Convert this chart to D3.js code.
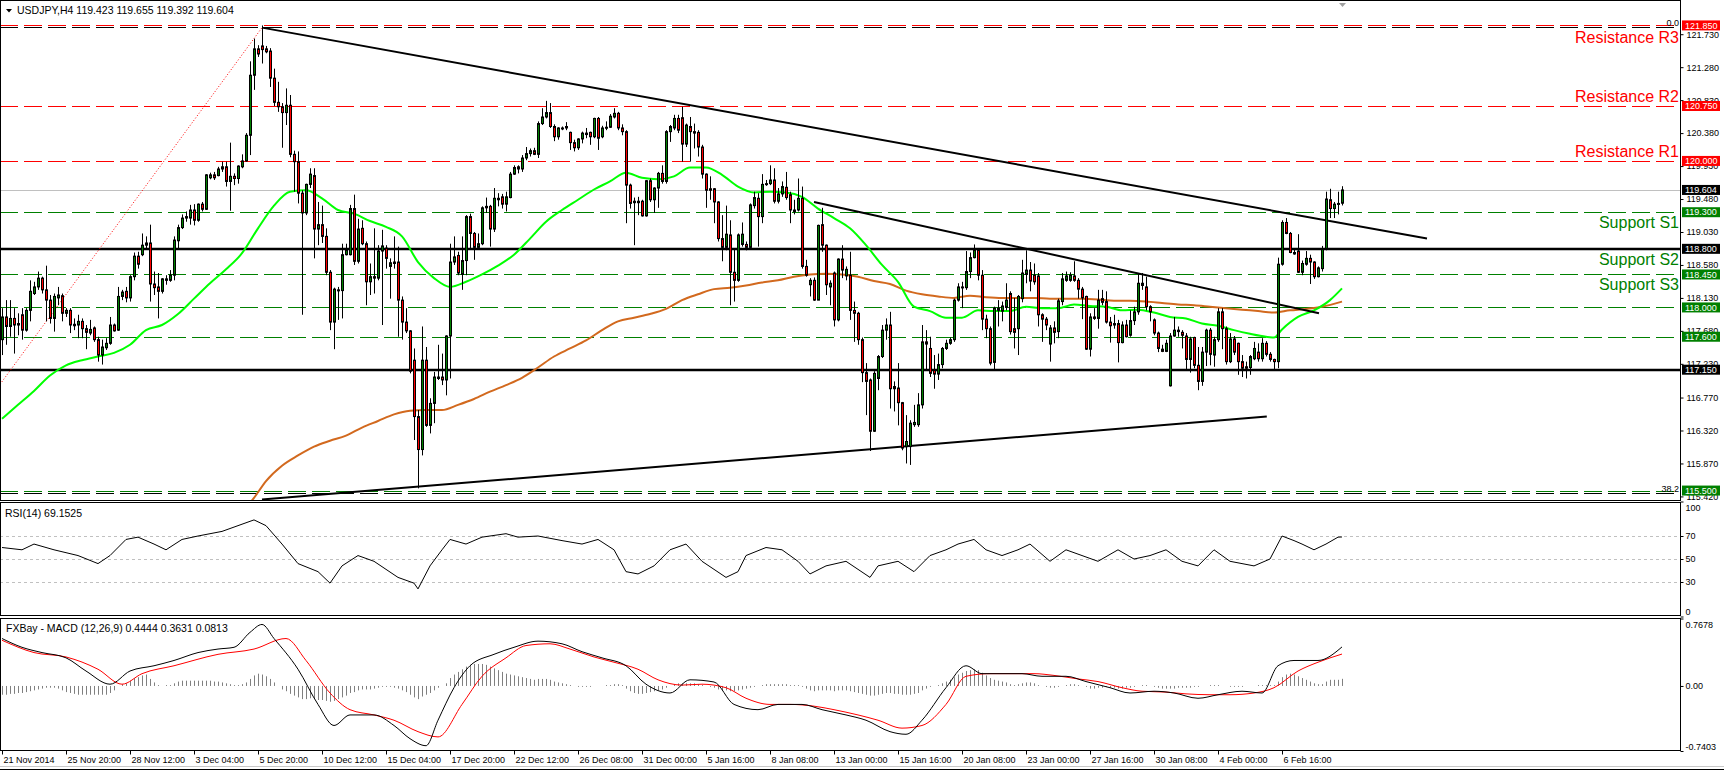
<!DOCTYPE html>
<html><head><meta charset="utf-8">
<script src="https://cdn.jsdelivr.net/npm/d3@7"></script>
<style>
html,body{margin:0;padding:0;background:#fff;}
svg{display:block;font-family:"Liberation Sans",Arial,sans-serif;}
</style></head><body>
<svg id="c" width="1724" height="772"></svg>
<script>
// ---------------- DATA ----------------
const symbolTitle = "USDJPY,H4";
const lastQuote = [119.423, 119.655, 119.392, 119.604];
const timeLabels = ["21 Nov 2014","25 Nov 20:00","28 Nov 12:00","3 Dec 04:00","5 Dec 20:00","10 Dec 12:00","15 Dec 04:00","17 Dec 20:00","22 Dec 12:00","26 Dec 08:00","31 Dec 00:00","5 Jan 16:00","8 Jan 08:00","13 Jan 00:00","15 Jan 16:00","20 Jan 08:00","23 Jan 00:00","27 Jan 16:00","30 Jan 08:00","4 Feb 00:00","6 Feb 16:00"];
const barsPerLabel = 16;
const priceTicks = [121.730,121.280,120.830,120.380,119.930,119.480,119.030,118.580,118.130,117.680,117.230,116.770,116.320,115.870,115.420];

const opens = [117.56,117.87,117.74,117.85,117.78,117.90,117.69,117.96,118.19,118.28,
118.40,118.24,118.10,117.85,118.13,118.16,117.92,117.96,117.77,117.76,
117.81,117.71,117.65,117.72,117.56,117.35,117.45,117.51,117.76,117.69,
118.15,118.22,118.13,118.42,118.70,118.72,118.85,118.88,118.32,118.28,
118.22,118.37,118.37,118.44,118.91,119.09,119.22,119.22,119.33,119.19,
119.41,119.34,119.77,119.81,119.80,119.89,119.92,119.72,119.79,119.76,
119.92,120.00,120.35,121.17,121.53,121.57,121.53,121.50,121.13,120.80,
120.74,120.66,120.76,120.09,119.99,119.56,119.29,119.68,119.80,119.07,
119.13,118.97,118.48,117.80,118.24,118.23,118.72,118.72,119.35,118.63,
119.08,118.87,118.35,118.42,118.40,118.77,118.81,118.56,118.62,118.62,
118.10,117.80,117.68,117.28,116.51,116.06,117.28,116.39,116.69,117.03,
117.05,117.01,117.61,118.62,118.71,118.45,118.64,119.24,119.01,118.82,
118.87,119.36,119.38,119.07,119.47,119.51,119.41,119.50,119.82,119.92,
119.89,120.04,120.10,120.14,120.09,120.51,120.60,120.66,120.47,120.33,
120.44,120.47,120.39,120.25,120.18,120.30,120.36,120.39,120.33,120.58,
120.33,120.45,120.46,120.60,120.65,120.45,120.40,119.67,119.45,119.43,
119.45,119.25,119.73,119.47,119.63,119.83,119.72,120.40,120.45,120.58,
120.59,120.23,120.47,120.40,120.39,120.19,119.82,119.62,119.62,119.44,
118.94,118.82,118.99,118.48,118.37,118.86,118.86,118.82,119.39,119.49,
119.24,119.68,119.69,119.74,119.45,119.55,119.64,119.54,119.33,119.33,
119.49,118.56,118.31,118.37,118.10,119.13,118.85,118.28,118.47,117.83,
118.66,118.43,118.44,117.96,117.92,117.56,117.11,117.01,116.31,117.03,
117.33,117.69,117.76,116.92,116.90,116.70,116.10,116.10,116.40,116.40,
116.67,117.53,117.44,117.15,117.09,117.22,117.44,117.51,117.56,118.10,
118.28,118.27,118.49,118.68,118.78,118.44,117.84,117.71,117.25,117.96,
117.95,118.00,118.19,117.71,117.71,118.12,118.45,118.51,118.44,118.43,
117.90,117.84,117.50,117.72,117.67,118.08,118.37,118.37,118.43,118.37,
118.25,118.15,117.43,117.87,117.85,118.12,118.08,117.80,117.78,117.78,
117.52,117.76,117.62,117.82,117.94,118.33,118.28,118.01,117.83,117.65,
117.43,117.40,116.93,117.61,117.69,117.66,117.61,117.29,117.59,117.21,
116.99,117.39,117.69,117.35,117.56,117.94,117.71,117.26,117.57,117.51,
117.26,117.19,117.18,117.30,117.39,117.30,117.51,117.36,117.29,117.26,
118.59,119.16,119.01,118.75,118.77,118.48,118.59,118.67,118.62,118.42,
118.53,118.80,119.47,119.35,119.41,119.423];

const highs = [117.99,118.10,118.10,117.99,117.92,117.99,117.99,118.37,118.35,118.49,
118.42,118.57,118.17,118.19,118.28,118.19,117.99,117.99,117.85,117.90,
117.85,117.76,117.83,117.74,117.60,117.56,117.58,117.87,117.78,118.28,
118.24,118.28,118.44,118.75,118.76,119.01,118.97,119.13,118.49,118.47,
118.40,118.44,118.51,118.97,119.13,119.27,119.31,119.40,119.41,119.42,
119.44,119.82,119.84,119.85,119.92,119.99,119.99,120.25,119.83,119.94,
120.09,120.38,121.36,121.67,121.58,121.85,121.57,121.54,121.26,121.08,
120.79,120.99,120.90,120.14,120.13,119.60,119.69,119.90,119.90,119.44,
119.39,119.08,118.51,118.27,118.28,118.87,118.87,119.40,119.54,119.21,
119.19,118.90,118.60,119.08,118.85,119.06,118.85,118.67,118.97,118.83,
118.15,117.99,117.69,117.44,116.60,117.74,117.46,116.76,117.12,117.49,
117.37,117.62,118.87,118.97,118.76,118.97,119.26,119.28,119.03,119.01,
119.38,119.50,119.40,119.63,119.56,119.55,119.58,119.85,119.94,119.94,
120.08,120.19,120.17,120.18,120.54,120.72,120.82,120.79,120.50,120.46,
120.47,120.53,120.40,120.29,120.31,120.40,120.45,120.40,120.59,120.60,
120.48,120.54,120.64,120.72,120.67,120.50,120.42,119.69,119.50,119.51,
119.47,119.74,119.76,119.64,119.85,119.94,120.42,120.49,120.63,120.63,
120.74,120.51,120.60,120.51,120.42,120.22,119.83,119.79,119.63,119.45,
119.26,119.39,119.19,118.81,119.01,119.16,118.90,119.42,119.58,119.56,
119.82,119.74,119.94,119.90,119.63,119.72,119.85,119.58,119.47,119.76,
119.65,118.65,118.40,118.41,119.13,119.36,118.86,118.37,118.49,118.67,
118.85,118.56,118.76,118.08,117.94,117.59,117.24,117.03,117.13,117.35,
117.76,117.85,117.94,116.99,117.24,116.71,116.53,116.46,116.67,116.83,
117.76,117.69,117.60,117.35,117.37,117.46,117.56,117.59,118.12,118.33,
118.35,118.77,118.75,118.86,118.81,118.51,117.90,117.74,118.01,118.10,
118.08,118.33,118.22,118.13,118.17,118.65,118.78,118.62,118.60,118.47,
117.92,117.87,117.76,117.81,118.12,118.47,118.49,118.48,118.63,118.40,
118.28,118.16,117.92,117.99,118.24,118.24,118.22,117.87,117.90,117.83,
117.81,117.83,117.96,118.01,118.47,118.47,118.42,118.03,117.85,117.67,
117.49,117.56,117.65,117.87,117.74,117.69,117.65,117.60,117.60,117.46,
117.46,117.71,117.72,117.60,117.99,117.99,117.74,117.65,117.61,117.52,
117.35,117.26,117.35,117.53,117.51,117.58,117.54,117.39,117.30,118.68,
119.19,119.22,119.03,118.81,119.00,118.64,118.77,118.72,118.63,118.56,
118.84,119.58,119.62,119.44,119.58,119.655];

const lows = [117.35,117.49,117.60,117.37,117.62,117.56,117.67,117.81,118.17,118.24,
118.19,117.81,117.78,117.67,118.03,117.81,117.87,117.65,117.69,117.58,
117.58,117.43,117.62,117.53,117.26,117.22,117.42,117.49,117.67,117.68,
118.10,118.07,118.08,118.37,118.53,118.70,118.81,118.08,118.17,117.85,
118.19,118.31,118.35,118.37,118.81,119.07,119.17,119.13,119.12,119.17,
119.31,119.33,119.75,119.74,119.79,119.85,119.65,119.32,119.67,119.69,
119.90,119.99,120.08,120.97,121.42,121.33,121.47,121.01,120.75,120.67,
120.18,120.49,120.05,119.58,119.42,117.90,119.26,119.63,118.67,118.85,
118.88,118.44,117.69,117.43,117.83,117.85,118.71,118.71,118.58,118.60,
118.85,118.03,118.17,118.19,118.37,117.76,118.53,118.12,118.53,117.60,
117.56,117.65,117.10,116.19,115.53,115.98,116.37,116.28,116.42,117.01,
116.94,116.80,117.03,118.58,118.44,118.24,118.44,118.81,118.65,118.81,
118.85,119.29,118.83,119.03,119.38,119.35,119.31,119.49,119.81,119.83,
119.85,120.01,120.06,120.08,120.04,120.49,120.58,120.45,120.27,120.29,
120.42,120.42,120.15,120.13,120.15,120.24,120.31,120.22,120.31,120.15,
120.31,120.42,120.45,120.58,120.42,120.35,119.15,119.35,118.85,119.26,
119.24,119.24,119.44,119.29,119.36,119.69,119.69,120.26,120.42,120.38,
119.99,120.19,119.99,120.17,120.06,119.76,119.36,119.47,119.15,118.90,
118.63,118.78,118.03,118.08,118.35,118.83,118.78,118.80,119.35,118.83,
119.15,119.66,119.67,119.42,119.42,119.51,119.47,119.15,119.27,119.31,
118.53,118.42,118.15,118.09,118.10,118.76,118.17,118.03,117.74,117.81,
118.40,118.37,117.83,117.53,117.49,116.98,116.53,116.04,116.30,116.87,
117.31,117.56,116.62,116.58,116.39,116.05,115.87,115.85,116.37,116.37,
116.62,117.15,117.05,116.89,117.01,117.17,117.42,117.49,117.53,118.08,
117.99,118.24,118.40,118.67,118.37,117.69,117.58,117.21,117.15,117.74,
117.81,117.96,117.63,117.44,117.35,118.07,118.33,118.22,118.31,117.74,
117.53,117.69,117.26,117.51,117.58,118.03,118.35,118.35,118.35,118.12,
117.84,117.42,117.33,117.83,117.71,118.03,117.78,117.52,117.71,117.25,
117.51,117.59,117.60,117.76,117.90,118.24,117.96,117.81,117.62,117.39,
117.39,117.39,116.92,117.60,117.60,117.44,117.16,117.11,117.17,116.87,
116.93,117.20,117.21,117.19,117.53,117.43,117.22,117.24,117.35,117.08,
117.05,117.03,117.08,117.28,117.26,117.26,117.33,117.26,117.16,117.17,
118.57,119.00,118.74,118.72,118.47,118.44,118.57,118.32,118.39,118.41,
118.49,118.78,119.22,119.22,119.27,119.392];

const closes = [117.87,117.74,117.85,117.76,117.76,117.69,117.96,118.22,118.28,118.40,
118.24,118.10,117.85,118.15,118.17,117.92,117.96,117.76,117.75,117.81,
117.71,117.66,117.70,117.56,117.35,117.46,117.51,117.76,117.68,118.15,
118.21,118.13,118.42,118.70,118.59,118.85,118.88,118.32,118.27,118.22,
118.39,118.39,118.44,118.92,119.09,119.22,119.24,119.33,119.19,119.41,
119.34,119.81,119.81,119.77,119.89,119.92,119.72,119.79,119.76,119.93,
120.00,120.35,121.17,121.53,121.46,121.52,121.49,121.13,120.80,120.74,
120.66,120.76,120.09,119.99,119.56,119.29,119.68,119.82,119.07,119.13,
118.97,118.48,117.80,118.25,118.23,118.72,118.78,119.35,118.63,119.07,
118.87,118.35,118.42,118.40,118.77,118.84,118.67,118.61,118.60,118.10,
117.80,117.68,117.13,116.51,116.06,117.28,116.39,116.69,117.05,117.05,
117.01,117.61,118.62,118.69,118.47,118.64,119.24,119.01,118.82,118.87,
119.36,119.38,119.07,119.49,119.49,119.41,119.51,119.82,119.91,119.89,
120.04,120.10,120.14,120.09,120.51,120.60,120.66,120.47,120.33,120.45,
120.45,120.45,120.25,120.18,120.30,120.38,120.38,120.33,120.58,120.31,
120.45,120.46,120.61,120.65,120.45,120.40,119.67,119.42,119.43,119.45,
119.25,119.73,119.47,119.63,119.83,119.72,120.40,120.47,120.58,120.42,
120.23,120.49,120.40,120.38,120.19,119.82,119.60,119.60,119.44,118.94,
118.82,119.00,118.48,118.37,118.99,119.00,118.82,119.40,119.50,119.24,
119.68,119.69,119.74,119.45,119.55,119.65,119.50,119.33,119.31,119.49,
118.56,118.44,118.37,118.10,119.12,118.85,118.31,118.33,117.83,118.66,
118.51,118.52,117.96,117.92,117.56,117.11,116.99,116.31,117.10,117.33,
117.69,117.76,116.89,116.89,116.70,116.08,116.17,116.42,116.43,116.67,
117.53,117.50,117.10,117.09,117.22,117.44,117.51,117.56,118.10,118.28,
118.27,118.49,118.68,118.78,118.44,117.84,117.71,117.24,117.99,117.99,
118.02,118.10,117.67,117.66,118.15,118.47,118.51,118.36,118.35,117.90,
117.84,117.76,117.72,117.66,118.09,118.39,118.43,118.44,118.37,118.25,
118.13,117.43,117.87,117.85,118.10,118.07,117.80,117.75,117.76,117.52,
117.76,117.60,117.82,117.94,118.33,118.30,118.01,117.94,117.65,117.44,
117.40,117.51,117.61,117.69,117.67,117.62,117.29,117.57,117.21,116.99,
117.39,117.69,117.36,117.56,117.94,117.71,117.26,117.57,117.39,117.26,
117.17,117.17,117.33,117.44,117.30,117.51,117.36,117.29,117.26,118.59,
119.16,119.01,118.75,118.73,118.48,118.60,118.67,118.62,118.42,118.54,
118.80,119.48,119.35,119.41,119.42,119.604];

// moving averages (bar index, price)
const maFastBars = [0,4,8,12,16,20,24,28,32,36,40,44,48,52,56,60,64,68,72,76,80,84,88,92,96,100,104,108,112,116,120,124,128,132,136,140,144,148,152,156,160,164,168,172,176,180,184,188,192,196,200,204,208,212,216,220,224,228,232,236,240,244,248,252,256,260,264,268,272,276,280,284,288,292,296,300,304,308,312,316,318,320,324,328,332,335];
const maFastVals = [116.48,116.67,116.86,117.07,117.21,117.28,117.33,117.38,117.49,117.69,117.76,117.91,118.12,118.33,118.52,118.74,119.08,119.39,119.58,119.60,119.49,119.33,119.28,119.18,119.10,118.97,118.62,118.40,118.28,118.35,118.45,118.57,118.72,118.94,119.17,119.33,119.47,119.61,119.72,119.84,119.77,119.75,119.79,119.91,119.91,119.81,119.65,119.57,119.58,119.57,119.51,119.35,119.22,119.08,118.85,118.58,118.35,118.01,117.95,117.86,117.86,117.96,117.95,117.95,118.01,117.99,117.99,118.04,118.02,118.01,117.96,117.97,117.93,117.87,117.85,117.78,117.75,117.69,117.64,117.60,117.59,117.70,117.87,117.96,118.10,118.26];
const maSlowBars = [61.5,63,66,70,74,78,82,86,90,94,98,102,106,110,114,118,122,126,130,134,138,142,146,150,154,158,162,166,170,174,178,182,186,190,194,198,202,206,210,214,218,222,226,230,234,238,242,246,250,254,258,262,266,270,274,278,282,286,290,294,298,302,306,310,314,318,322,326,330,335];
const maSlowVals = [115.30,115.40,115.63,115.84,115.98,116.10,116.18,116.25,116.36,116.45,116.54,116.59,116.60,116.60,116.67,116.75,116.85,116.94,117.04,117.18,117.33,117.44,117.55,117.69,117.81,117.86,117.91,117.98,118.10,118.18,118.25,118.27,118.30,118.34,118.37,118.42,118.45,118.46,118.45,118.42,118.36,118.32,118.23,118.18,118.15,118.13,118.16,118.14,118.13,118.13,118.13,118.12,118.12,118.12,118.11,118.09,118.09,118.08,118.06,118.04,118.03,118.01,117.99,117.97,117.95,117.93,117.96,117.98,118.01,118.08];

// horizontal levels
const resistancePrices = [121.85, 120.75, 120.00];
const resistanceNames = ["Resistance R3", "Resistance R2", "Resistance R1"];
const supportPrices = [119.30, 118.80, 118.45];
const supportNames = ["Support S1", "Support S2", "Support S3"];
const dashedGreenPrices = [119.30, 118.45, 118.00, 117.60, 115.50];
const solidBlackPrices = [118.80, 117.15];
const fibPrices = [121.85, 115.50];
const fibNames = ["0.0", "38.2"];
const currentPrice = 119.604;

// trend lines: [barStart, priceStart, barEnd, priceEnd]
const trendUpperTop = [65, 121.82, 356.25, 118.94];
const trendLowerTop = [203, 119.44, 329.25, 117.92];
const trendBottom = [65, 115.378, 316.2, 116.51];
const fibRay = [-0.5, 116.95, 65, 121.82];

// RSI(14)
const rsiBars = [0,5,8,13,19,24,27,31,34,38,41,45,49,55,59,63,66,70,74,79,82,85,89,93,99,103,104,107,110,112,116,120,126,129,134,140,145,149,153,156,159,163,167,171,175,181,184,186,191,195,199,202,206,211,217,219,224,228,232,236,239,243,246,250,254,257,262,266,270,274,279,283,287,291,295,299,303,307,313,317,320,323,325,328,331,334,335];
const rsiVals = [60,58,63,58,53,46,53,67,69,63,58,67,70,74,79,84,79,63,46,39,29,44,53,48,34,29,24,44,58,67,63,69,72,69,70,66,63,67,58,39,37,44,58,63,48,34,39,53,60,58,48,37,44,48,34,44,48,39,53,58,63,67,58,53,58,63,48,58,53,48,58,50,53,58,48,44,58,48,44,50,70,66,63,58,63,69,69.1525];

// MACD (12,26,9)
const macdBars = [0,5,10,16,21,27,32,38,43,49,54,58,62,65,68,74,79,83,87,93,98,102,106,109,113,117,123,128,134,140,145,150,156,161,167,172,178,183,189,194,200,205,211,216,222,226,230,236,241,245,250,255,260,266,271,277,282,288,293,299,304,310,315,319,323,329,335];
const macdVals = [0.54,0.44,0.38,0.32,0.17,0.02,0.17,0.23,0.29,0.38,0.42,0.44,0.61,0.70,0.54,0.19,-0.21,-0.45,-0.33,-0.33,-0.45,-0.60,-0.68,-0.39,-0.02,0.23,0.36,0.44,0.51,0.48,0.39,0.32,0.23,0.02,-0.08,0.07,0.045,-0.21,-0.27,-0.21,-0.21,-0.27,-0.33,-0.39,-0.52,-0.55,-0.39,-0.02,0.23,0.14,0.14,0.14,0.11,0.11,0.05,-0.02,-0.08,-0.06,-0.08,-0.14,-0.10,-0.06,-0.08,0.23,0.29,0.29,0.4444];
const signalBars = [0,8,16,24,30,35,43,54,63,71,76,82,87,93,98,104,109,115,120,126,131,137,142,148,153,159,164,170,175,181,186,192,197,203,208,214,219,225,230,236,241,247,252,258,263,269,274,280,285,291,296,302,307,313,318,324,329,335];
const signalVals = [0.52,0.38,0.33,0.19,0.02,0.14,0.23,0.36,0.42,0.54,0.29,-0.08,-0.27,-0.33,-0.39,-0.52,-0.58,-0.21,0.11,0.32,0.46,0.48,0.42,0.33,0.27,0.19,0.07,0.01,0.02,-0.02,-0.14,-0.21,-0.21,-0.23,-0.27,-0.33,-0.39,-0.48,-0.45,-0.21,0.11,0.14,0.14,0.14,0.12,0.08,0.05,-0.02,-0.06,-0.07,-0.09,-0.10,-0.10,-0.08,-0.02,0.17,0.27,0.3631];
const macdHist = [-0.10,-0.10,-0.09,-0.09,-0.08,-0.08,-0.07,-0.06,-0.05,-0.04,
-0.03,-0.02,-0.02,-0.02,-0.03,-0.05,-0.07,-0.08,-0.09,-0.10,
-0.10,-0.10,-0.10,-0.10,-0.10,-0.10,-0.10,-0.08,-0.05,0.00,
0.02,0.03,0.06,0.09,0.10,0.12,0.13,0.08,0.04,0.01,
0.00,0.01,0.01,0.03,0.05,0.06,0.06,0.06,0.06,0.06,
0.06,0.06,0.06,0.05,0.05,0.04,0.03,0.02,0.01,0.01,
0.02,0.04,0.08,0.12,0.14,0.13,0.11,0.08,0.04,0.00,
-0.04,-0.06,-0.09,-0.11,-0.13,-0.15,-0.15,-0.14,-0.15,-0.16,
-0.16,-0.17,-0.18,-0.17,-0.15,-0.13,-0.11,-0.08,-0.07,-0.05,
-0.04,-0.04,-0.04,-0.03,-0.02,-0.01,-0.01,-0.01,-0.02,-0.03,
-0.05,-0.07,-0.10,-0.13,-0.15,-0.12,-0.10,-0.08,-0.05,-0.02,
0.00,0.03,0.09,0.13,0.16,0.19,0.22,0.24,0.25,0.25,
0.25,0.24,0.22,0.20,0.18,0.16,0.14,0.13,0.12,0.11,
0.10,0.09,0.08,0.07,0.08,0.08,0.08,0.07,0.05,0.04,
0.03,0.02,0.01,0.00,-0.01,-0.01,-0.01,-0.01,0.00,0.00,
0.00,0.01,0.01,0.02,0.02,0.01,-0.03,-0.06,-0.08,-0.09,
-0.09,-0.08,-0.07,-0.06,-0.05,-0.04,-0.02,0.00,0.02,0.03,
0.03,0.03,0.03,0.03,0.02,0.01,0.00,-0.01,-0.02,-0.04,
-0.05,-0.05,-0.06,-0.06,-0.05,-0.04,-0.03,-0.02,-0.01,0.00,
0.01,0.02,0.02,0.02,0.02,0.02,0.02,0.01,0.01,0.01,
-0.01,-0.03,-0.05,-0.06,-0.05,-0.05,-0.05,-0.05,-0.06,-0.05,
-0.05,-0.05,-0.06,-0.07,-0.08,-0.09,-0.10,-0.11,-0.11,-0.10,
-0.09,-0.08,-0.08,-0.09,-0.09,-0.10,-0.10,-0.10,-0.09,-0.08,
-0.05,-0.03,-0.01,0.00,0.01,0.03,0.05,0.07,0.10,0.13,
0.15,0.17,0.18,0.19,0.18,0.15,0.12,0.09,0.07,0.06,
0.05,0.04,0.02,0.01,0.02,0.03,0.04,0.04,0.03,0.01,
0.00,-0.01,-0.02,-0.02,-0.01,0.00,0.01,0.02,0.02,0.01,
0.00,-0.01,-0.03,-0.03,-0.02,-0.02,-0.01,-0.02,-0.02,-0.03,
-0.03,-0.02,-0.02,-0.01,0.00,0.01,0.01,0.00,-0.01,-0.02,
-0.03,-0.03,-0.03,-0.03,-0.02,-0.02,-0.02,-0.02,-0.01,-0.01,
0.00,0.00,0.01,0.01,0.01,0.00,0.00,-0.01,-0.01,-0.01,
-0.01,0.00,0.00,0.00,0.01,0.01,0.01,0.01,0.01,0.05,
0.10,0.13,0.14,0.13,0.11,0.09,0.07,0.05,0.03,0.02,
0.02,0.05,0.07,0.07,0.07,0.0813];
const rsiLevels = [70, 50, 30];
const rsiTicks = [100, 70, 50, 30, 0];
const macdRange = [-0.7403, 0.7678];

// ---------------- DRAWING ----------------
const svg = d3.select("#c");
const W = 1724, H = 772, plotRight = 1680;
const mainTop = 0.5, mainBottom = 500.5, rsiTop = 502.5, rsiBottom = 615.5, macdTop = 618.5, macdBottom = 750.5;
const col = {green: "#008000", red: "#ff0000", ma1: "#00ff00", ma2: "#d2691e"};
const labelFont = 10.5;

svg.append("rect").attr("width", W).attr("height", H).attr("fill", "#fff");

const x = d3.scaleLinear().domain([0, barsPerLabel * (timeLabels.length - 1)]).range([2, 2 + 4 * barsPerLabel * (timeLabels.length - 1)]);
const px = i => Math.round(x(i)) + 0.5;
const yMain = d3.scaleLinear().domain([117.15, 120.75]).range([369.7, 106]);
const yRsi = d3.scaleLinear().domain([0, 100]).range([616.5, 501.5]);
const yMacd = d3.scaleLinear().domain(macdRange).range([751, 618.5]);

const defs = svg.append("defs");
function clip(id, y0, y1) {
  defs.append("clipPath").attr("id", id).append("rect").attr("x", 1).attr("y", y0).attr("width", plotRight - 1).attr("height", y1 - y0);
}
clip("cMain", 1, 500);
clip("cRsi", 503, 615);
clip("cMacd", 619, 750);

const gMain = svg.append("g").attr("clip-path", "url(#cMain)");
const gRsi = svg.append("g").attr("clip-path", "url(#cRsi)");
const gMacd = svg.append("g").attr("clip-path", "url(#cMacd)");

function hline(g, yv, color, width, dash) {
  const l = g.append("line").attr("x1", 0).attr("x2", plotRight).attr("y1", yv).attr("y2", yv)
    .attr("stroke", color).attr("stroke-width", width);
  if (dash) l.attr("stroke-dasharray", dash);
  return l;
}
const snap = v => Math.round(v) + 0.5;

hline(gMain, snap(yMain(currentPrice)), "#c0c0c0", 1);
fibPrices.forEach(p => hline(gMain, snap(yMain(p)) + 2, "#000", 1, "18,6"));
resistancePrices.forEach(p => hline(gMain, snap(yMain(p)), col.red, 1, "18,6"));
dashedGreenPrices.forEach(p => hline(gMain, snap(yMain(p)), col.green, 1, "18,6"));
solidBlackPrices.forEach(p => hline(gMain, Math.round(yMain(p)), "#000", 2.5));

gMain.append("line").attr("x1", x(fibRay[0])).attr("y1", yMain(fibRay[1])).attr("x2", x(fibRay[2])).attr("y2", yMain(fibRay[3]))
  .attr("stroke", col.red).attr("stroke-width", 1).attr("stroke-dasharray", "1,2");

const maLine = d3.line().x(d => x(d[0])).y(d => yMain(d[1])).curve(d3.curveMonotoneX);
gMain.append("path").attr("d", maLine(maSlowBars.map((b, i) => [b, maSlowVals[i]])))
  .attr("fill", "none").attr("stroke", col.ma2).attr("stroke-width", 2);
gMain.append("path").attr("d", maLine(maFastBars.map((b, i) => [b, maFastVals[i]])))
  .attr("fill", "none").attr("stroke", col.ma1).attr("stroke-width", 2);

[trendUpperTop, trendLowerTop, trendBottom].forEach(t => {
  gMain.append("line").attr("x1", x(t[0])).attr("y1", yMain(t[1])).attr("x2", x(t[2])).attr("y2", yMain(t[3]))
    .attr("stroke", "#000").attr("stroke-width", 2);
});

const candles = d3.range(opens.length).map(i => ({i, o: opens[i], h: highs[i], l: lows[i], c: closes[i]}));
const gC = gMain.append("g");
gC.selectAll("line.w").data(candles).join("line")
  .attr("x1", d => px(d.i)).attr("x2", d => px(d.i))
  .attr("y1", d => yMain(d.h)).attr("y2", d => yMain(d.l))
  .attr("stroke", "#000").attr("stroke-width", 1);
gC.selectAll("rect.b").data(candles).join("rect")
  .attr("x", d => px(d.i) - 1).attr("width", 2)
  .attr("y", d => yMain(Math.max(d.o, d.c)))
  .attr("height", d => Math.max(1, Math.abs(yMain(d.o) - yMain(d.c))))
  .attr("fill", d => d.c >= d.o ? col.green : col.red)
  .attr("stroke", "#000").attr("stroke-width", 1);

const bigFont = 16;
resistancePrices.forEach((p, k) => {
  const yy = yMain(p);
  svg.append("text").attr("x", 1679).attr("y", yy < 40 ? yy + 18 : yy - 4).attr("text-anchor", "end")
    .attr("font-size", bigFont).attr("fill", col.red).text(resistanceNames[k]);
});
supportPrices.forEach((p, k) => {
  svg.append("text").attr("x", 1679).attr("y", yMain(p) + 16).attr("text-anchor", "end")
    .attr("font-size", bigFont).attr("fill", col.green).text(supportNames[k]);
});
fibPrices.forEach((p, k) => {
  svg.append("text").attr("x", 1679).attr("y", snap(yMain(p)) + 0.5).attr("text-anchor", "end")
    .attr("font-size", 9).attr("fill", "#000").text(fibNames[k]);
});

rsiLevels.forEach(v => hline(gRsi, snap(yRsi(v)), "#c0c0c0", 1, "3,3"));
gRsi.append("path").attr("d", d3.line().x(d => x(d[0])).y(d => yRsi(d[1]))(rsiBars.map((b, i) => [b, rsiVals[i]])))
  .attr("fill", "none").attr("stroke", "#000").attr("stroke-width", 1);

gMacd.selectAll("line.h").data(macdHist.map((v, i) => [i, v])).join("line")
  .attr("x1", d => px(d[0])).attr("x2", d => px(d[0]))
  .attr("y1", yMacd(0)).attr("y2", d => yMacd(d[1]))
  .attr("stroke", "#808080").attr("stroke-width", 1);
const macdLine = d3.line().x(d => x(d[0])).y(d => yMacd(d[1])).curve(d3.curveMonotoneX);
gMacd.append("path").attr("d", macdLine(signalBars.map((b, i) => [b, signalVals[i]])))
  .attr("fill", "none").attr("stroke", col.red).attr("stroke-width", 1);
gMacd.append("path").attr("d", macdLine(macdBars.map((b, i) => [b, macdVals[i]])))
  .attr("fill", "none").attr("stroke", "#000").attr("stroke-width", 1);

[[mainTop, mainBottom], [rsiTop, rsiBottom], [macdTop, macdBottom]].forEach(([a, b]) => {
  svg.append("rect").attr("x", 0.5).attr("y", a).attr("width", plotRight).attr("height", b - a)
    .attr("fill", "none").attr("stroke", "#000").attr("stroke-width", 1);
});

function styleAxis(g) {
  g.select(".domain").remove();
  g.selectAll("text").attr("font-size", 9).attr("fill", "#000").attr("font-family", "'Liberation Sans', Arial, sans-serif");
  g.selectAll("line").attr("stroke", "#000");
}
svg.append("g").attr("transform", `translate(${plotRight + 0.5},0)`)
  .call(d3.axisRight(yMain).tickValues(priceTicks).tickFormat(d3.format(".3f")).tickSize(3).tickPadding(3))
  .call(styleAxis);
svg.append("g").attr("transform", `translate(${plotRight + 0.5},0)`)
  .call(d3.axisRight(yRsi).tickValues(rsiTicks).tickFormat(d3.format("d")).tickSize(3).tickPadding(2))
  .call(styleAxis)
  .call(g => g.selectAll("text").attr("dy", d => d === 100 ? "1.05em" : d === 0 ? "-0.2em" : "0.32em"));
svg.append("g").attr("transform", `translate(${plotRight + 0.5},0)`)
  .call(d3.axisRight(yMacd).tickValues([macdRange[1], 0, macdRange[0]]).tickFormat(d => d === 0 ? "0.00" : d.toFixed(4)).tickSize(3).tickPadding(2))
  .call(styleAxis)
  .call(g => g.selectAll("text").attr("dy", d => d === macdRange[1] ? "1.05em" : d === macdRange[0] ? "-0.2em" : "0.32em"));

svg.append("g").attr("transform", `translate(0,${macdBottom})`)
  .call(d3.axisBottom(x).tickValues(timeLabels.map((t, k) => k * barsPerLabel)).tickFormat((d, k) => timeLabels[k]).tickSize(4).tickPadding(2))
  .call(styleAxis)
  .call(g => g.selectAll(".tick").attr("transform", d => `translate(${px(d)},0)`))
  .call(g => g.selectAll("text").attr("text-anchor", "start").attr("x", 1));

function priceBox(p, bg) {
  const yy = yMain(p);
  svg.append("rect").attr("x", 1682).attr("y", yy - 5).attr("width", 38).attr("height", 10).attr("fill", bg);
  svg.append("text").attr("x", 1685).attr("y", yy).attr("dy", "0.35em").attr("font-size", 9).attr("fill", "#fff").text(p.toFixed(3));
}
resistancePrices.forEach(p => priceBox(p, col.red));
dashedGreenPrices.forEach(p => priceBox(p, col.green));
solidBlackPrices.forEach(p => priceBox(p, "#000"));
priceBox(currentPrice, "#000");

svg.append("path").attr("d", "M6,9 L12,9 L9,12.5 Z").attr("fill", "#000");
svg.append("text").attr("x", 17).attr("y", 14).attr("font-size", labelFont).attr("fill", "#000")
  .text(symbolTitle + "  " + lastQuote.map(v => v.toFixed(3)).join(" "));
svg.append("text").attr("x", 5).attr("y", 517).attr("font-size", labelFont).attr("fill", "#000")
  .text("RSI(14) " + rsiVals[rsiVals.length - 1].toFixed(4));
svg.append("text").attr("x", 6).attr("y", 632).attr("font-size", labelFont).attr("fill", "#000")
  .text("FXBay - MACD (12,26,9) " + [macdVals[macdVals.length - 1], signalVals[signalVals.length - 1], macdHist[macdHist.length - 1]].map(v => v.toFixed(4)).join(" "));
svg.append("path").attr("d", `M${px(opens.length - 1) - 3.5},3 L${px(opens.length - 1) + 3.5},3 L${px(opens.length - 1)},7 Z`).attr("fill", "#a0a0a0");

svg.append("line").attr("x1", 0).attr("x2", W).attr("y1", 766.5).attr("y2", 766.5).attr("stroke", "#c8c8c8");
svg.append("line").attr("x1", 0).attr("x2", W).attr("y1", 769.5).attr("y2", 769.5).attr("stroke", "#000");
</script>
</body></html>
